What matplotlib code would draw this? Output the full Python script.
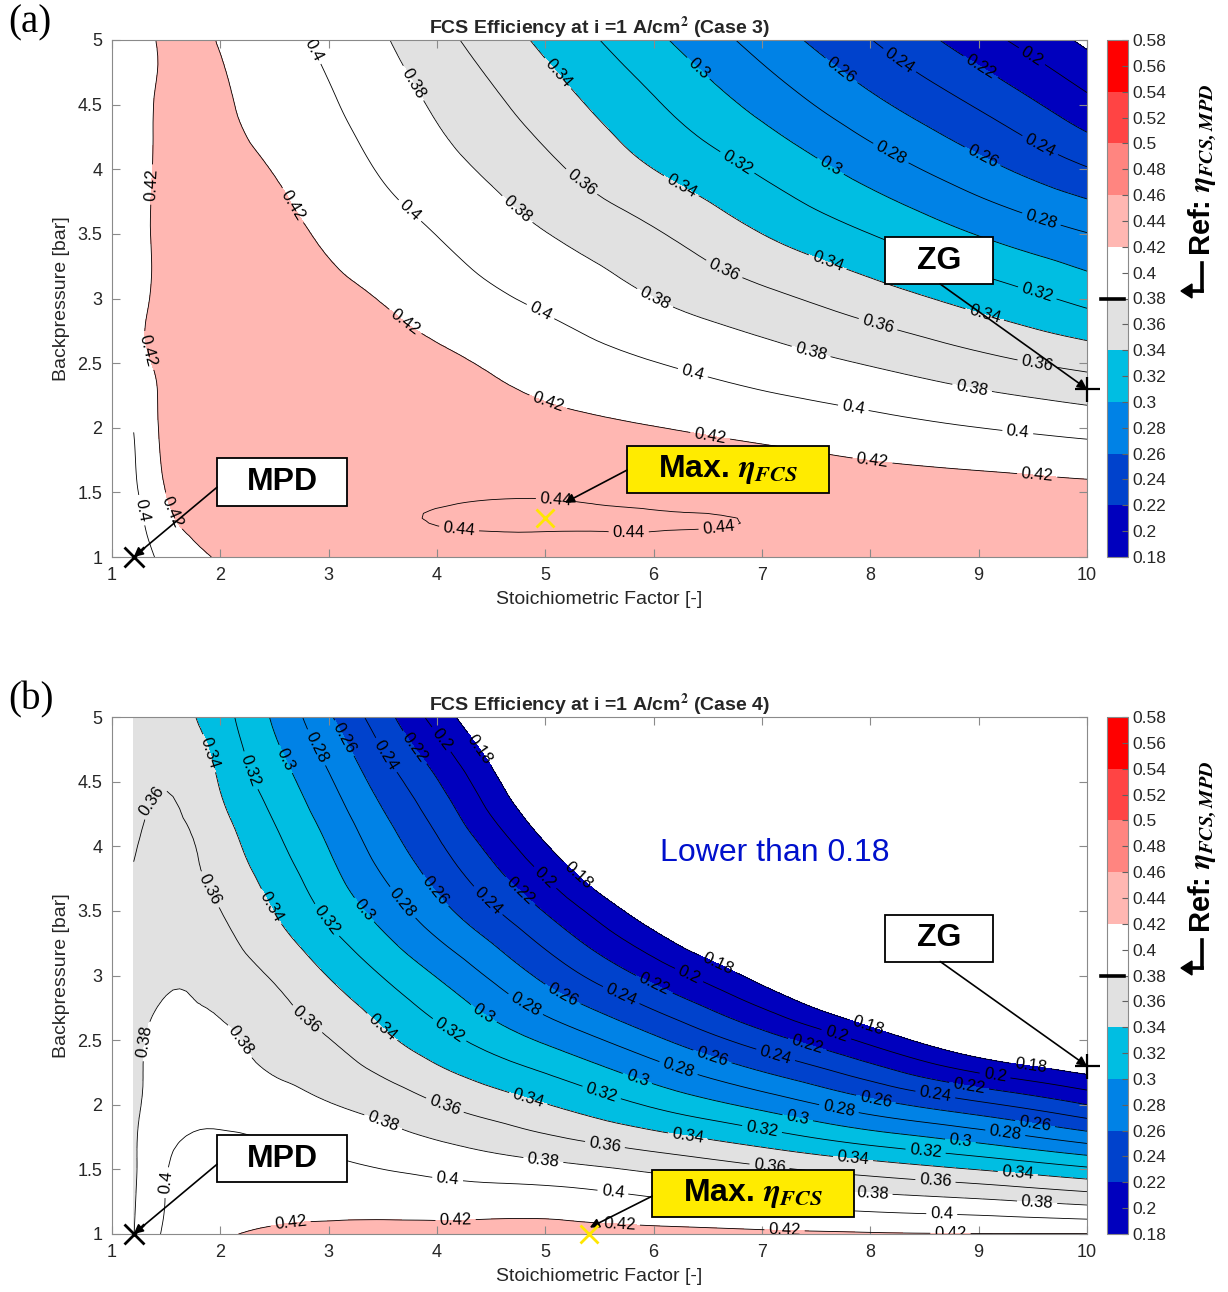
import matplotlib
matplotlib.use("Agg")
import matplotlib.pyplot as plt
import matplotlib.tri as mtri
import numpy as np
from matplotlib.colors import ListedColormap, BoundaryNorm
from matplotlib.patches import Rectangle

plt.rcParams['font.family'] = ['Liberation Sans', 'DejaVu Sans']
plt.rcParams['mathtext.fontset'] = 'stix'

# ---- data (stoichiometric factor x backpressure) ----
x_a = [1.2, 1.5, 2, 2.5, 3, 3.5, 4, 5, 6, 7, 8, 9, 10]
y_a = [1, 1.3, 1.6, 2, 2.5, 3, 3.5, 4, 4.5, 5]
eff_a = [
    [0.386, 0.406, 0.4215, 0.428, 0.432, 0.4337, 0.435, 0.4365, 0.4365, 0.435, 0.4325, 0.4295, 0.4265],
    [0.391, 0.416, 0.428, 0.4315, 0.4355, 0.4385, 0.4403, 0.4408, 0.4404, 0.4396, 0.436, 0.432, 0.428],
    [0.397, 0.4215, 0.4295, 0.4335, 0.436, 0.4365, 0.4365, 0.437, 0.435, 0.432, 0.427, 0.4235, 0.4201],
    [0.4005, 0.424, 0.429, 0.4315, 0.432, 0.4313, 0.430, 0.4255, 0.4205, 0.4141, 0.4071, 0.4001, 0.3933],
    [0.413, 0.4245, 0.429, 0.4305, 0.4295, 0.4268, 0.4235, 0.412, 0.4006, 0.3897, 0.3786, 0.3662, 0.3544],
    [0.414, 0.4245, 0.428, 0.427, 0.4245, 0.4192, 0.4113, 0.396, 0.3802, 0.3652, 0.3494, 0.3326, 0.3144],
    [0.414, 0.424, 0.4265, 0.4235, 0.4175, 0.4086, 0.3996, 0.3806, 0.3622, 0.34, 0.32, 0.299, 0.2807],
    [0.413, 0.4235, 0.4245, 0.4195, 0.41, 0.3982, 0.3873, 0.3649, 0.34, 0.317, 0.2917, 0.2669, 0.2415],
    [0.412, 0.4235, 0.4225, 0.4135, 0.4025, 0.39, 0.3774, 0.3504, 0.3223, 0.294, 0.2651, 0.2377, 0.2058],
    [0.41, 0.4235, 0.4188, 0.4072, 0.3954, 0.3819, 0.3666, 0.3356, 0.3045, 0.2721, 0.2406, 0.2083, 0.1757],
]

x_b = [1.2, 1.5, 2, 2.5, 3, 3.5, 4, 5, 6, 7, 8, 9, 10]
y_b = [1, 1.3, 1.6, 2, 2.5, 3, 3.5, 4, 4.5, 5]
eff_b = [
    [0.3795, 0.403, 0.4175, 0.4235, 0.425, 0.4253, 0.4255, 0.4258, 0.4255, 0.4235, 0.4215, 0.4205, 0.4205],
    [0.378, 0.4005, 0.408, 0.4105, 0.4115, 0.4105, 0.4085, 0.407, 0.3985, 0.39, 0.3825, 0.3755, 0.3655],
    [0.3775, 0.398, 0.406, 0.4045, 0.4005, 0.3947, 0.3888, 0.3769, 0.3646, 0.3502, 0.3348, 0.32, 0.302],
    [0.3775, 0.388, 0.3925, 0.388, 0.381, 0.3725, 0.3611, 0.3408, 0.3173, 0.2938, 0.2678, 0.2448, 0.22],
    [0.3775, 0.3835, 0.3835, 0.3723, 0.3607, 0.3446, 0.3282, 0.297, 0.2643, 0.2297, 0.1945, 0.159, 0.14],
    [0.367, 0.377, 0.3715, 0.3578, 0.3392, 0.3192, 0.2989, 0.2548, 0.2135, 0.172, 0.13, 0.10, 0.08],
    [0.3625, 0.367, 0.3602, 0.3395, 0.3158, 0.292, 0.2673, 0.2187, 0.165, 0.12, 0.09, 0.06, 0.045],
    [0.3585, 0.365, 0.35, 0.3249, 0.2994, 0.2709, 0.2436, 0.182, 0.12, 0.08, 0.06, 0.04, 0.03],
    [0.354, 0.359, 0.3385, 0.3106, 0.2827, 0.2512, 0.2212, 0.15, 0.10, 0.07, 0.05, 0.03, 0.02],
    [0.352, 0.348, 0.3283, 0.2972, 0.2628, 0.2281, 0.1921, 0.125, 0.08, 0.05, 0.03, 0.02, 0.01],
]

mpd_point = (1.2, 1.0)
zg_point = (10.0, 2.3)
max_point_a = (5.0, 1.3)
max_point_b = (5.4, 1.0)
ref_eff = 0.38

levels = np.round(np.arange(0.18, 0.5801, 0.02), 2)
line_levels = levels[levels <= 0.441]

band_colors = ['#0000BE', '#0042CC', '#0082E6', '#00BEE2', '#E1E1E1',
               '#FFFFFF', '#FFB7B2', '#FF8580', '#FF4444', '#FF0000']
cmap = ListedColormap([c for c in band_colors for _ in range(2)])

# label positions (data coords) for contour labels
labels_a = [(1.40, 3.88), (1.35, 2.6), (2.63, 3.70), (3.66, 2.77), (5.03, 2.21), (6.52, 1.93),
            (8.02, 1.75), (9.54, 1.63), (1.55, 1.35),
            (2.95, 4.96), (3.75, 3.68), (4.95, 2.89), (6.36, 2.42), (7.84, 2.14), (9.36, 1.96), (1.26, 1.36),
            (3.75, 4.65), (4.73, 3.68), (6.01, 3.0), (7.45, 2.58), (8.94, 2.31),
            (5.35, 3.92), (6.67, 3.26), (8.06, 2.77), (9.54, 2.49),
            (5.10, 4.73), (6.26, 3.88), (7.6, 3.27), (9.06, 2.89),
            (6.77, 4.05), (9.54, 3.04), (6.40, 4.77), (7.63, 4.02),
            (8.18, 4.11), (9.57, 3.59), (7.72, 4.75), (9.03, 4.09),
            (8.25, 4.82), (9.57, 4.19), (9.0, 4.77), (9.48, 4.86),
            (4.21, 1.27), (5.77, 1.17), (6.6, 1.22), (5.09, 1.35)]
labels_b = [(1.86, 4.71), (2.46, 3.53), (3.47, 2.58), (4.84, 2.04), (6.32, 1.77), (7.84, 1.58), (9.36, 1.46),
            (2.29, 4.59), (2.97, 3.42), (4.10, 2.56), (5.51, 2.07), (7.0, 1.81), (8.51, 1.64),
            (2.59, 4.67), (3.33, 3.51), (4.42, 2.69), (5.84, 2.18), (7.33, 1.90), (8.83, 1.71),
            (2.90, 4.77), (3.66, 3.55), (4.84, 2.81), (6.22, 2.26), (7.71, 1.97), (9.25, 1.81),
            (3.15, 4.84), (3.96, 3.64), (5.15, 2.84), (6.54, 2.37), (8.05, 2.04), (9.52, 1.85),
            (3.54, 4.71), (4.46, 3.57), (5.69, 2.83), (7.12, 2.37), (8.60, 2.08),
            (3.82, 4.78), (4.75, 3.64), (6.0, 2.92), (7.42, 2.47), (8.91, 2.14),
            (4.03, 4.82), (5.0, 3.76), (6.33, 3.01), (7.68, 2.53), (9.15, 2.22),
            (4.36, 4.73), (5.30, 3.77), (6.58, 3.07), (7.98, 2.61), (9.48, 2.29),
            (1.35, 4.36), (1.89, 3.66), (2.78, 2.64), (4.07, 1.99), (5.55, 1.69), (7.07, 1.53), (8.6, 1.40),
            (1.32, 2.49), (2.18, 2.49), (3.5, 1.86), (4.98, 1.56), (8.02, 1.32), (9.54, 1.25),
            (1.47, 1.40), (4.10, 1.44), (5.62, 1.30), (8.66, 1.18),
            (2.64, 1.15), (4.17, 1.15), (5.69, 1.12), (7.21, 1.08), (8.74, 1.05)]

W, H = 1228, 1292
fig = plt.figure(figsize=(W / 100, H / 100), dpi=100)

spine_col = '#8a8a8a'
txt_col = '#262626'


def fmt(v):
    return f'{v:g}'


def smooth_grid(xs, ys, zs):
    # triangulate the grid and let matplotlib's cubic interpolator smooth it
    nx, ny = len(xs), len(ys)
    X, Y = np.meshgrid(xs, ys)
    tris = []
    for j in range(ny - 1):
        for i in range(nx - 1):
            p = j * nx + i
            tris.append([p, p + 1, p + nx + 1])
            tris.append([p, p + nx + 1, p + nx])
    tri = mtri.Triangulation(X.ravel(), Y.ravel(), tris)
    z = np.array(zs).ravel()
    interp = mtri.CubicTriInterpolator(tri, z, kind='min_E')
    refiner = mtri.UniformTriRefiner(tri)
    return refiner.refine_field(z, triinterpolator=interp, subdiv=3)


def box(ax, x0, y0, x1, y1, text, fc, fs):
    ax.add_patch(Rectangle((x0, y0), x1 - x0, y1 - y0, fc=fc, ec='k', lw=1.3, zorder=6))
    ax.text((x0 + x1) / 2, (y0 + y1) / 2, text, ha='center', va='center',
            fontsize=fs, fontweight='bold', zorder=7)


def arrow(ax, start, end):
    ax.annotate('', xy=end, xytext=start, zorder=7,
                arrowprops=dict(arrowstyle='-|>', color='k', lw=1.2,
                                mutation_scale=14, shrinkA=0, shrinkB=0))


def panel(top_px, xs, ys, zs, case, labels, tag):
    bottom = 1 - (top_px + 517) / H
    height = 517 / H
    ax = fig.add_axes([112 / W, bottom, 975 / W, height])
    norm = BoundaryNorm(levels, cmap.N)
    tri_f, z_f = smooth_grid(xs, ys, zs)
    cf = ax.tricontourf(tri_f, z_f, levels=levels, cmap=cmap, norm=norm)
    cs = ax.tricontour(tri_f, z_f, levels=line_levels, colors='k', linewidths=0.6)
    ax.set_xlim(1, 10)
    ax.set_ylim(1, 5)
    ax.set_xticks(range(1, 11))
    ax.set_yticks([1, 1.5, 2, 2.5, 3, 3.5, 4, 4.5, 5])
    ax.yaxis.set_major_formatter(plt.FuncFormatter(lambda v, p: fmt(v)))
    ax.tick_params(direction='in', top=True, right=True, length=6, color=spine_col,
                   labelsize=13, labelcolor=txt_col, pad=7)
    for s in ax.spines.values():
        s.set_color(spine_col)
    ax.set_xlabel('Stoichiometric Factor [-]', fontsize=14, color=txt_col, labelpad=5)
    ax.set_ylabel('Backpressure [bar]', fontsize=14, color=txt_col, labelpad=5)
    ax.set_title(r'FCS Efficiency at i =1 A/cm$^{\mathbf{2}}$ (Case %d)' % case,
                 fontsize=14, fontweight='bold', color=txt_col, pad=4)
    ax.clabel(cs, manual=labels, inline=True, inline_spacing=4, fontsize=12, fmt=fmt)

    cax = fig.add_axes([1107 / W, bottom, 21 / W, height])
    cb = fig.colorbar(cf, cax=cax, ticks=levels)
    cb.ax.yaxis.set_major_formatter(plt.FuncFormatter(lambda v, p: fmt(round(v, 2))))
    cb.ax.tick_params(direction='in', length=4, color='#606060', labelsize=12.5,
                      labelcolor=txt_col, pad=3)
    cb.outline.set_edgecolor(spine_col)
    cax.plot([-0.3, 0.8], [ref_eff, ref_eff], color='k', lw=2.6, clip_on=False,
             transform=cax.get_yaxis_transform(), zorder=10)
    fig.text(1203 / W, 1 - (top_px + 130) / H,
             r'Ref: $\mathbfit{\eta}_{\mathbfit{FCS,MPD}}$', rotation=90,
             fontsize=21, fontweight='bold', ha='center', va='center')
    # bent arrow pointing at the reference tick
    yr = 1 - (top_px + 251) / H
    fig.add_artist(plt.Line2D([1202 / W, 1202 / W], [yr + 28 / H, yr], color='k', lw=2.6))
    fig.add_artist(plt.Line2D([1189 / W, 1202 / W], [yr, yr], color='k', lw=2.6))
    fig.add_artist(plt.Polygon([[1181 / W, yr], [1192 / W, yr + 7 / H], [1192 / W, yr - 7 / H]],
                               closed=True, color='k'))
    fig.text(8 / W, 1 - (top_px - 17) / H, tag, fontsize=28, family='Liberation Serif',
             va='center', ha='left')
    return ax


# (a)
ax_a = panel(40, x_a, y_a, eff_a, 3, labels_a, '(a)')
box(ax_a, 1.97, 1.395, 3.17, 1.766, 'MPD', 'white', 23)
arrow(ax_a, (1.97, 1.54), mpd_point)
box(ax_a, 5.755, 1.495, 7.621, 1.859, r'Max. $\mathbfit{\eta}_{\mathbfit{FCS}}$', '#FFEB00', 23)
arrow(ax_a, (5.755, 1.673), (5.18, 1.42))
box(ax_a, 8.138, 3.112, 9.135, 3.476, 'ZG', 'white', 23)
arrow(ax_a, (8.645, 3.112), zg_point)
ax_a.plot(*mpd_point, marker='x', color='k', ms=14, mew=2, clip_on=False, zorder=8)
ax_a.plot(*max_point_a, marker='x', color='#FFE600', ms=13, mew=2, zorder=8)
ax_a.plot(*zg_point, marker='+', color='k', ms=18, mew=1.6, clip_on=False, zorder=8)

# (b)
ax_b = panel(717, x_b, y_b, eff_b, 4, labels_b, '(b)')
box(ax_b, 1.97, 1.402, 3.17, 1.764, 'MPD', 'white', 23)
arrow(ax_b, (1.97, 1.54), mpd_point)
box(ax_b, 5.986, 1.131, 7.851, 1.494, r'Max. $\mathbfit{\eta}_{\mathbfit{FCS}}$', '#FFEB00', 23)
arrow(ax_b, (5.986, 1.293), (5.41, 1.05))
box(ax_b, 8.138, 3.108, 9.135, 3.471, 'ZG', 'white', 23)
arrow(ax_b, (8.645, 3.108), zg_point)
ax_b.plot(*mpd_point, marker='x', color='k', ms=14, mew=2, clip_on=False, zorder=8)
ax_b.plot(*max_point_b, marker='x', color='#FFE600', ms=13, mew=2, clip_on=False, zorder=8)
ax_b.plot(*zg_point, marker='+', color='k', ms=18, mew=1.6, clip_on=False, zorder=8)
ax_b.text(7.12, 3.95, 'Lower than 0.18', color='#0010CC', fontsize=23,
          ha='center', va='center')

fig.savefig('out.png', dpi=100)
